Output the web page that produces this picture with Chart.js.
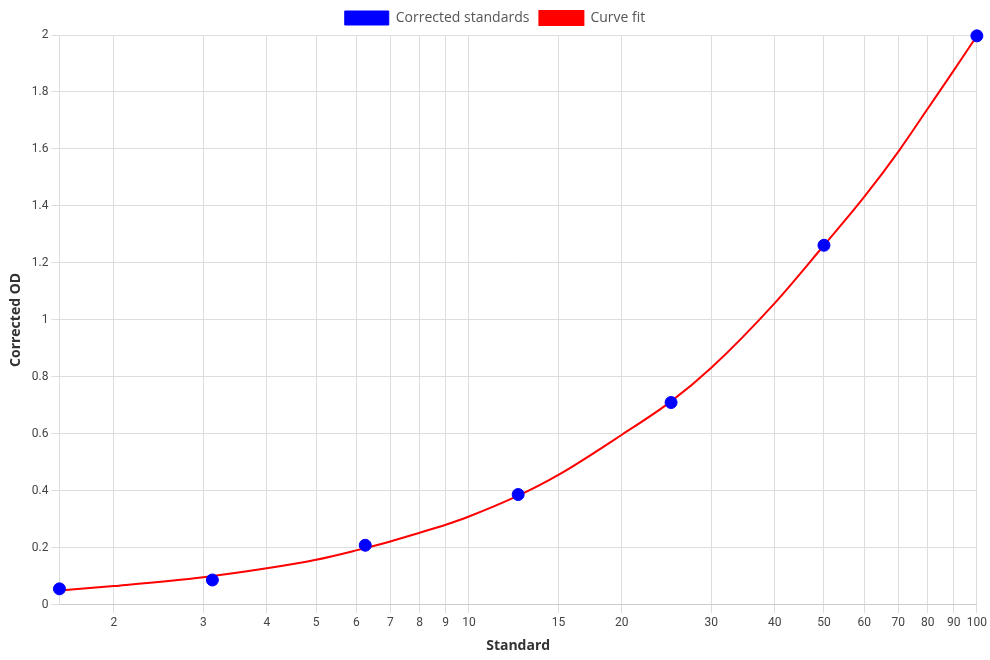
<!DOCTYPE html>
<html>
<head>
<meta charset="utf-8">
<script src="https://cdn.jsdelivr.net/npm/chart.js@4/dist/chart.umd.min.js"></script>
<style>
  html, body { margin: 0; padding: 0; background: #fff; }
  #wrap { width: 990px; height: 660px; }
</style>
</head>
<body>
<div id="wrap"><canvas id="c"></canvas></div>
<script>
// Corrected standards (measured points)
const standardX = [1.5625, 3.125, 6.25, 12.5, 25, 50, 100];
const correctedOD = [0.056, 0.087, 0.209, 0.387, 0.710, 1.262, 1.997];

// Curve fit
const fitX = [1.5625, 2, 3, 4, 5, 6, 7, 8, 9, 10, 12.5, 15, 20, 25, 30, 40, 50, 60, 70, 80, 90, 100];
const fitY = [0.050, 0.066, 0.097, 0.128, 0.158, 0.191, 0.222, 0.253, 0.281, 0.310, 0.383, 0.456, 0.597, 0.714, 0.832, 1.059, 1.262, 1.432, 1.590, 1.741, 1.875, 1.997];

// Axis ticks
const xTickValues = [2, 3, 4, 5, 6, 7, 8, 9, 10, 15, 20, 30, 40, 50, 60, 70, 80, 90, 100];

const titleFont = { family: "'Open Sans', sans-serif", size: 14, weight: 'bold' };

new Chart(document.getElementById('c'), {
  type: 'scatter',
  data: {
    datasets: [
      {
        label: 'Corrected standards',
        data: standardX.map((x, i) => ({ x: x, y: correctedOD[i] })),
        backgroundColor: '#0000ff',
        borderColor: '#0000ff',
        pointRadius: 6,
        pointHoverRadius: 6,
        showLine: false,
        clip: false
      },
      {
        label: 'Curve fit',
        data: fitX.map((x, i) => ({ x: x, y: fitY[i] })),
        backgroundColor: '#ff0000',
        borderColor: '#ff0000',
        borderWidth: 2,
        pointRadius: 0,
        showLine: true,
        clip: false,
        cubicInterpolationMode: 'monotone'
      }
    ]
  },
  options: {
    responsive: true,
    maintainAspectRatio: false,
    animation: false,
    layout: { padding: { left: 4, right: 4, top: 1, bottom: 2 } },
    plugins: {
      legend: {
        position: 'top',
        labels: {
          boxWidth: 44,
          boxHeight: 14,
          color: '#555',
          font: { family: "'Open Sans', sans-serif", size: 14 }
        }
      },
      tooltip: { enabled: false }
    },
    scales: {
      x: {
        type: 'logarithmic',
        min: 1.5625,
        max: 100,
        afterBuildTicks: (axis) => { axis.ticks = xTickValues.map(v => ({ value: v })); },
        ticks: {
          autoSkip: false,
          maxRotation: 0,
          color: '#444',
          font: { family: 'Roboto', size: 12 },
          callback: (v) => String(v)
        },
        grid: { color: '#dddddd' },
        border: { color: '#cccccc' },
        title: {
          display: true,
          text: 'Standard',
          color: '#333',
          font: titleFont
        }
      },
      y: {
        min: 0,
        max: 2,
        ticks: {
          stepSize: 0.2,
          color: '#444',
          font: { family: 'Roboto', size: 12 },
          callback: (v) => String(Math.round(v * 10) / 10)
        },
        grid: { color: '#dddddd' },
        border: { color: '#dddddd' },
        title: {
          display: true,
          text: 'Corrected OD',
          color: '#333',
          font: titleFont
        }
      }
    }
  }
});
</script>
</body>
</html>
